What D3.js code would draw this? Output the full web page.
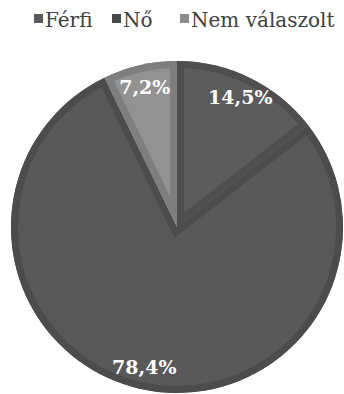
<!DOCTYPE html>
<html><head><meta charset="utf-8">
<script src="https://cdn.jsdelivr.net/npm/d3@7/dist/d3.min.js"></script>
<style>html,body{margin:0;padding:0;background:#fff;}svg{display:block;}
text{font-family:"DejaVu Serif",serif;}</style>
</head><body>
<script>
const categories = ["Férfi", "Nő", "Nem válaszolt"];
const values = [14.5, 78.4, 7.2];
const labels = ["14,5%", "78,4%", "7,2%"];
const fills = ["#5c5c5c", "#595959", "#929292"];
const borders = ["#4f4f4f", "#4c4c4c", "#7e7e7e"];
const legendColors = ["#5a5a5a", "#4a4a4a", "#8c8c8c"];

const W = 344, H = 394;
const cx = 177, cy = 227, R = 166;
const legendSlots = [34, 112, 180];
const svg = d3.select("body").append("svg").attr("width", W).attr("height", H);
const defs = svg.append("defs");

const pie = d3.pie().sort(null).value(d => d);
const arcs = pie(values);
const arc = d3.arc().innerRadius(0).outerRadius(R);
const labelArc = d3.arc().innerRadius(144).outerRadius(144);

const g = svg.append("g").attr("transform", `translate(${cx},${cy})`);
arcs.forEach((a, i) => {
  defs.append("clipPath").attr("id", "clip" + i)
    .append("path").attr("d", arc(a));
});
const sg = g.selectAll("g.slice").data(arcs).enter().append("g").attr("class", "slice");
sg.append("path").attr("d", arc).attr("fill", (d, i) => fills[i]);
sg.append("path").attr("d", arc)
  .attr("fill", "none")
  .attr("stroke", (d, i) => borders[i])
  .attr("stroke-width", 14)
  .attr("stroke-linejoin", "miter")
  .attr("clip-path", (d, i) => `url(#clip${i})`);

g.selectAll("text.lbl").data(arcs).enter().append("text")
  .attr("class", "lbl")
  .attr("transform", d => `translate(${labelArc.centroid(d)})`)
  .attr("text-anchor", "middle")
  .attr("dy", "0.36em")
  .style("font-weight", "bold")
  .style("font-size", "19px")
  .attr("fill", "#ffffff")
  .text((d, i) => labels[i]);

// legend
const lg = svg.append("g");
categories.forEach((c, i) => {
  const x = legendSlots[i];
  lg.append("rect").attr("x", x).attr("y", 14).attr("width", 9).attr("height", 9)
    .attr("fill", legendColors[i]);
  lg.append("text").attr("x", x + 11).attr("y", 27)
    .style("font-size", "20px").attr("fill", "#404040").text(c);
});
</script>
</body></html>
